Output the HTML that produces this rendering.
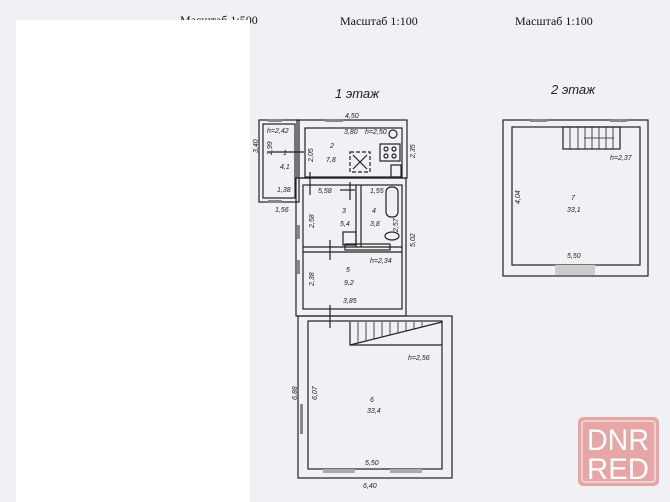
<!DOCTYPE html>
<html><head><meta charset="utf-8"><style>
html,body{margin:0;padding:0;background:#f2f2f6;}
svg{display:block}
text{font-family:"Liberation Sans",sans-serif;font-style:italic;fill:#222;}
.s{font-family:"Liberation Serif",serif;font-style:normal;font-size:12px;fill:#111}
.w{font-family:"Liberation Sans",sans-serif;font-style:normal;font-size:30px;fill:#ffffff}
</style></head><body>
<svg width="670" height="502" viewBox="0 0 670 502" xmlns="http://www.w3.org/2000/svg">
<rect x="0" y="0" width="670" height="502" fill="#f1f1f5"/>
<text class="s" x="180" y="24">Масштаб 1:500</text>
<rect x="16" y="20" width="234" height="482" fill="#ffffff"/>
<text class="s" x="340" y="25">Масштаб 1:100</text>
<text class="s" x="515" y="25">Масштаб 1:100</text>

<text x="335" y="98" font-size="13">1 этаж</text>
<text x="551" y="94" font-size="13">2 этаж</text>

<g fill="none" stroke="#222" stroke-width="1.2">
<rect x="259" y="120" width="40" height="82"/>
<rect x="263" y="124" width="32" height="74"/>
<rect x="297" y="120" width="110" height="58"/>
<rect x="305" y="128" width="97" height="49"/>
<rect x="296" y="178" width="110" height="138"/>
<rect x="303" y="185" width="99" height="124"/>
<line x1="356" y1="185" x2="356" y2="247"/><line x1="361" y1="185" x2="361" y2="247"/>
<line x1="303" y1="247" x2="402" y2="247"/><line x1="303" y1="252" x2="402" y2="252"/>
<rect x="298" y="316" width="154" height="162"/>
<rect x="308" y="321" width="134" height="148"/>
<polyline points="350,322 350,345 442,345"/>
<line x1="350" y1="345" x2="442" y2="322"/>
<rect x="503" y="120" width="145" height="156"/>
<rect x="512" y="127" width="128" height="138"/>
<rect x="563" y="127" width="57" height="22"/>
<rect x="380" y="144" width="20" height="17"/>
<circle cx="386" cy="149" r="2"/><circle cx="394" cy="149" r="2"/><circle cx="386" cy="156" r="2"/><circle cx="394" cy="156" r="2"/>
<rect x="391" y="165" width="10" height="12"/>
<circle cx="393" cy="134" r="4"/>
<rect x="350" y="152" width="20" height="20" stroke-dasharray="4,2"/>
<line x1="353" y1="155" x2="367" y2="169"/><line x1="367" y1="155" x2="353" y2="169"/>
<rect x="386" y="187" width="12" height="30" rx="5"/>
<ellipse cx="392" cy="236" rx="7" ry="4"/>
<rect x="343" y="232" width="13" height="13"/>
<rect x="345" y="244" width="45" height="6"/>
<line x1="268" y1="152" x2="304" y2="152"/>
<line x1="310" y1="172" x2="310" y2="195"/>
<line x1="340" y1="190" x2="355" y2="190"/><line x1="350" y1="182" x2="350" y2="200"/>
<line x1="330" y1="240" x2="330" y2="260"/>
<line x1="330" y1="305" x2="330" y2="328"/>
</g>
<g stroke="#222" stroke-width="0.8">
<line x1="358" y1="322" x2="358" y2="343"/><line x1="366" y1="322" x2="366" y2="341"/><line x1="374" y1="322" x2="374" y2="339"/><line x1="382" y1="322" x2="382" y2="337"/><line x1="390" y1="322" x2="390" y2="335"/><line x1="398" y1="322" x2="398" y2="333"/><line x1="406" y1="322" x2="406" y2="331"/><line x1="414" y1="322" x2="414" y2="329"/><line x1="422" y1="322" x2="422" y2="327"/>
<line x1="570" y1="127" x2="570" y2="149"/><line x1="578" y1="127" x2="578" y2="149"/><line x1="585" y1="127" x2="585" y2="149"/><line x1="592" y1="127" x2="592" y2="149"/><line x1="599" y1="127" x2="599" y2="149"/><line x1="606" y1="127" x2="606" y2="149"/><line x1="613" y1="127" x2="613" y2="149"/>
<line x1="584" y1="138" x2="614" y2="138"/>
</g>
<g fill="#888">
<rect x="268" y="119" width="14" height="3"/><rect x="325" y="119" width="18" height="3"/>
<rect x="268" y="200" width="14" height="3"/>
<rect x="297" y="225" width="3" height="14"/><rect x="297" y="260" width="3" height="14"/>
<rect x="300" y="404" width="3" height="30"/>
<rect x="323" y="469" width="32" height="4" fill="#aaa"/><rect x="390" y="469" width="32" height="4" fill="#aaa"/>
<rect x="530" y="119" width="17" height="3"/><rect x="610" y="119" width="17" height="3"/>
<rect x="555" y="265" width="40" height="10" fill="#ccc"/>
</g>
<g font-size="7">
<text x="345" y="118">4,50</text>
<text x="267" y="133">h=2,42</text>
<text x="344" y="134">3,80</text><text x="365" y="134">h=2,50</text>
<text x="283" y="155">1</text><text x="280" y="169">4,1</text>
<text x="330" y="148">2</text><text x="326" y="162">7,8</text>
<text x="277" y="192">1,38</text><text x="275" y="212">1,56</text>
<text x="318" y="193">5,58</text><text x="370" y="193">1,55</text>
<text x="342" y="213">3</text><text x="340" y="226">5,4</text>
<text x="372" y="213">4</text><text x="370" y="226">3,8</text>
<text x="370" y="263">h=2,34</text>
<text x="346" y="272">5</text><text x="344" y="285">9,2</text>
<text x="343" y="303">3,85</text>
<text x="408" y="360">h=2,56</text>
<text x="370" y="402">6</text><text x="367" y="413">33,4</text>
<text x="365" y="465">5,50</text><text x="363" y="488">6,40</text>
<text x="610" y="160">h=2,37</text>
<text x="571" y="200">7</text><text x="567" y="212">33,1</text>
<text x="567" y="258">5,50</text>
</g>
<g font-size="7">
<text transform="translate(258,153) rotate(-90)">3,40</text>
<text transform="translate(272,155) rotate(-90)">2,99</text>
<text transform="translate(313,162) rotate(-90)">2,05</text>
<text transform="translate(415,158) rotate(-90)">2,35</text>
<text transform="translate(314,228) rotate(-90)">2,58</text>
<text transform="translate(398,232) rotate(-90)">2,57</text>
<text transform="translate(415,247) rotate(-90)">5,02</text>
<text transform="translate(314,286) rotate(-90)">2,38</text>
<text transform="translate(297,400) rotate(-90)">6,88</text>
<text transform="translate(317,400) rotate(-90)">6,07</text>
<text transform="translate(520,204) rotate(-90)">4,04</text>
</g>
<rect x="578" y="417" width="81" height="69" rx="5" fill="#e6a6a6"/>
<rect x="582" y="421" width="73" height="61" rx="3" fill="none" stroke="#fbeaea" stroke-width="1.2"/>
<text class="w" x="618" y="450" text-anchor="middle" textLength="62" lengthAdjust="spacingAndGlyphs">DNR</text>
<text class="w" x="618" y="479" text-anchor="middle" textLength="62" lengthAdjust="spacingAndGlyphs">RED</text>
</svg>
</body></html>
